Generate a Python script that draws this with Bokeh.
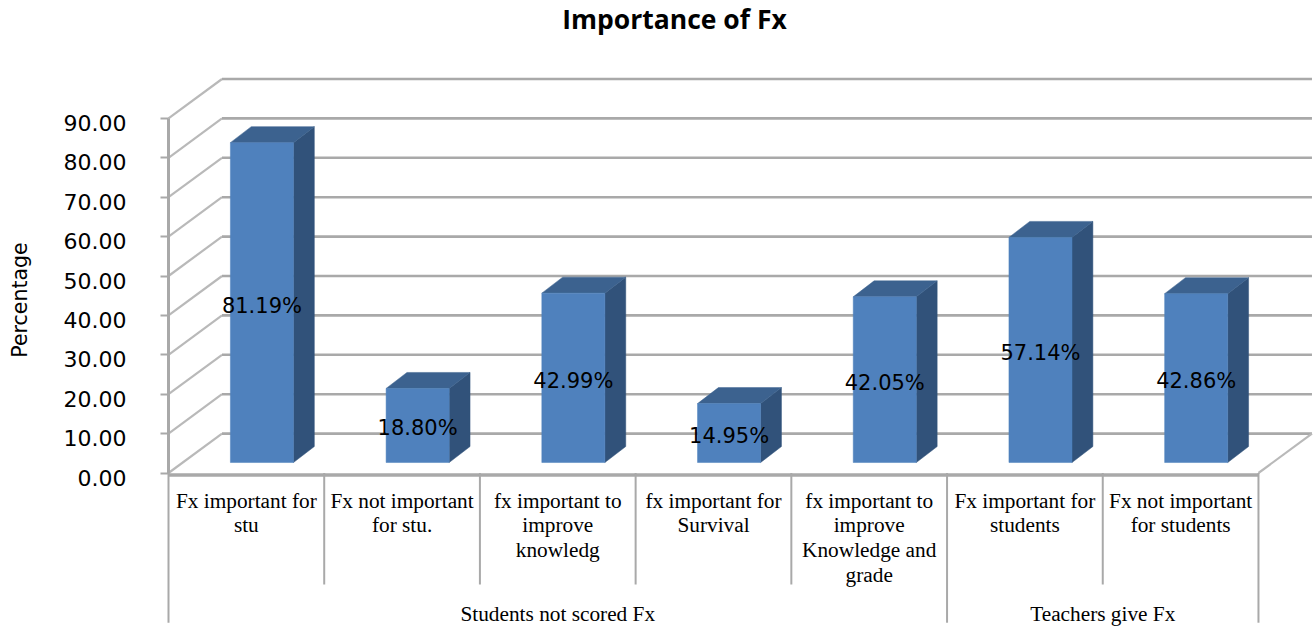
from bokeh.core.properties import value
from bokeh.embed import file_html
from bokeh.models import FixedTicker, LinearAxis, NumeralTickFormatter, Range1d
from bokeh.plotting import figure
from bokeh.resources import INLINE

# Chart content
chart_title = "Importance of Fx"
y_title = "Percentage"
categories = [
    "Fx important for\nstu",
    "Fx not important\nfor stu.",
    "fx important to\nimprove\nknowledg",
    "fx important for\nSurvival",
    "fx important to\nimprove\nKnowledge and\ngrade",
    "Fx important for\nstudents",
    "Fx not important\nfor students",
]
values = [81.19, 18.80, 42.99, 14.95, 42.05, 57.14, 42.86]
groups = ["Students not scored Fx", "Teachers give Fx"]
group_spans = [(0, 5), (5, 7)]
y_ticks = [0, 10, 20, 30, 40, 50, 60, 70, 80, 90]

# Colours
GRID = "#a9a9a9"
SLOPE = "#b9b9b9"
FRONT = "#4f81bd"
SIDE = "#31527a"
TOP = "#3c628f"

# Scale: one category = 155.71 px, one percentage point = 3.94 px
W, H = 1315, 626
X0, Y0, CAT_PX, UNIT_PX = 168, 472.5, 155.71, 3.94

# Oblique depth of the box and of each bar, in data units
DEPTH_X, DEPTH_Y = 53.5 / CAT_PX, 10.0
BAR_W, BAR_DX, BAR_DY = 0.405, 0.134, 4.06
BAR_SHIFT_X, BAR_SHIFT_Y = 0.1, 2.66

# The tick numbers sit a little below their tick marks
LABEL_DROP = 4.5 / UNIT_PX

y_start, y_end = (Y0 - H) / UNIT_PX, Y0 / UNIT_PX

p = figure(
    width=W, height=H, output_backend="svg", toolbar_location=None,
    x_axis_location=None, y_axis_location=None,
    min_border_left=0, min_border_right=0,
    min_border_bottom=0, min_border_top=0,
    x_range=Range1d(-X0 / CAT_PX, (W - X0) / CAT_PX),
    y_range=Range1d(y_start, y_end),
    background_fill_color="white", border_fill_color="white",
)
p.outline_line_color = None
p.grid.visible = False
p.extra_y_ranges = {"tick_labels": Range1d(y_start + LABEL_DROP, y_end + LABEL_DROP)}

# Rule and tick marks of the value axis, on the front-left edge of the box
rule = LinearAxis(
    fixed_location=0, bounds=(0, 90), ticker=FixedTicker(ticks=y_ticks),
    major_tick_out=8, major_tick_in=0, minor_tick_line_color=None,
    axis_line_color=GRID, axis_line_width=3,
    major_tick_line_color=GRID, major_tick_line_width=2,
    major_label_overrides={t: "" for t in y_ticks},
)
p.add_layout(rule, "left")

# Numbers and title of the value axis
numbers = LinearAxis(
    y_range_name="tick_labels", fixed_location=0, bounds=(0, 90),
    ticker=FixedTicker(ticks=y_ticks),
    formatter=NumeralTickFormatter(format="0.00"),
    major_tick_out=8, major_tick_in=0, minor_tick_line_color=None,
    axis_line_color=None, major_tick_line_color=None,
    major_label_standoff=34, major_label_text_font="DejaVu Sans",
    major_label_text_font_size="22px", major_label_text_color="black",
    axis_label=y_title, axis_label_text_font="DejaVu Sans",
    axis_label_text_font_size="20.5px", axis_label_text_font_style="normal",
    axis_label_text_color="black", axis_label_standoff=29,
)
p.add_layout(numbers, "left")

# Side wall and back wall rules, one per tick
n = len(categories)
for t in y_ticks:
    p.line([0, DEPTH_X], [t, t + DEPTH_Y], line_color=SLOPE, line_width=2.2)
    p.line([DEPTH_X, n + DEPTH_X], [t + DEPTH_Y] * 2,
           line_color=GRID, line_width=2.6)

# Floor
p.line([0, n], [-0.5, -0.5], line_color=GRID, line_width=3.4)
p.line([n, n + DEPTH_X], [0, DEPTH_Y], line_color=SLOPE, line_width=2.2)

# Category separators below the floor
SHORT_END, LONG_END = -28.3, -38.0
group_edges = {e for span in group_spans for e in span}
for i in range(n + 1):
    end = LONG_END if i in group_edges else SHORT_END
    p.line([i, i], [0, end], line_color=GRID, line_width=2)

# Bars
for i, v in enumerate(values):
    left = i + 0.5 + BAR_SHIFT_X - BAR_W / 2
    right = left + BAR_W
    base = BAR_SHIFT_Y
    top = base + v
    p.patch([right, right + BAR_DX, right + BAR_DX, right],
            [base, base + BAR_DY, top + BAR_DY, top],
            fill_color=SIDE, line_color=SIDE, line_width=0.5)
    p.patch([left, left + BAR_DX, right + BAR_DX, right],
            [top, top + BAR_DY, top + BAR_DY, top],
            fill_color=TOP, line_color=TOP, line_width=0.5)
    p.quad(left=left, right=right, bottom=base, top=top,
           fill_color=FRONT, line_color=FRONT, line_width=0.5)

# Value labels, centred on the front face of each bar
p.text(
    x=[i + 0.5 + BAR_SHIFT_X for i in range(n)],
    y=[BAR_SHIFT_Y + v / 2 for v in values],
    text=[f"{v:.2f}%" for v in values], y_offset=3,
    text_font=value("DejaVu Sans"), text_font_size="21px",
    text_color="black", text_align="center", text_baseline="middle",
)

# Category labels and group labels
p.text(
    x=[i + 0.5 for i in range(n)], y=[-4.0] * n, text=categories,
    text_font=value("Liberation Serif"), text_font_size="21.3px",
    text_color="black", text_align="center", text_baseline="top",
    text_line_height=1.03,
)
p.text(
    x=[(a + b) / 2 for a, b in group_spans], y=[-35.7] * len(groups),
    text=groups, text_font=value("Liberation Serif"), text_font_size="21.3px",
    text_color="black", text_align="center", text_baseline="middle",
)

# Chart title
p.text(
    x=[(674 - X0) / CAT_PX], y=[(Y0 - 18) / UNIT_PX], text=[chart_title],
    text_font=value("Open Sans"), text_font_size="26.5px",
    text_font_style="bold", text_color="black",
    text_align="center", text_baseline="middle",
)

open("out.html", "w").write(file_html(p, INLINE))
